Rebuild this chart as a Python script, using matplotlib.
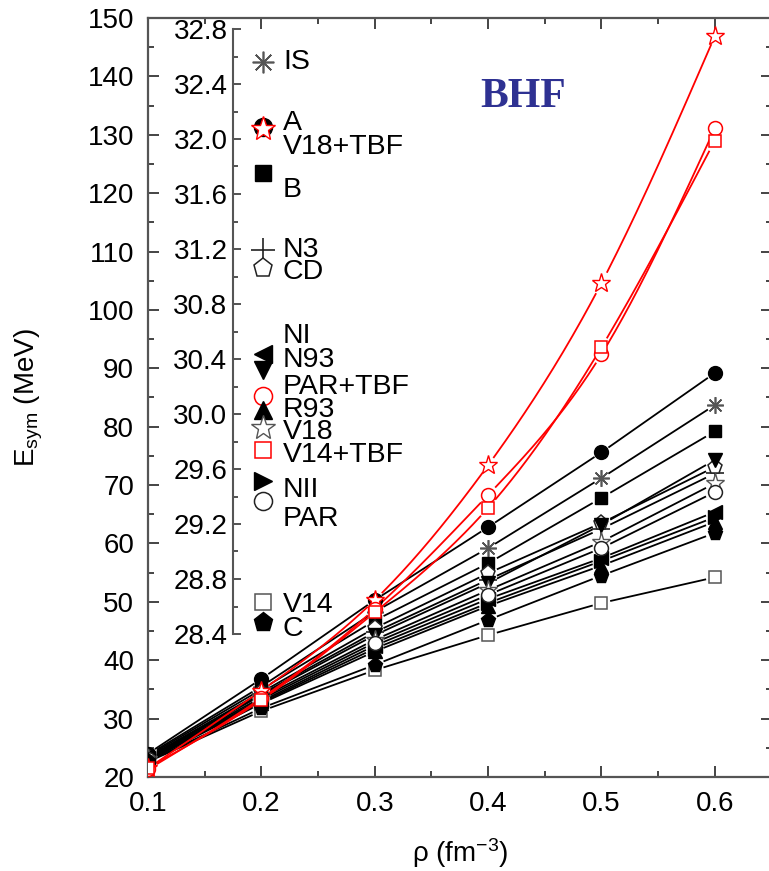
import numpy as np
import matplotlib
matplotlib.use("Agg")
import matplotlib.pyplot as plt
from matplotlib.ticker import MultipleLocator, FixedLocator

plt.rcParams['font.family'] = ['Liberation Sans', 'DejaVu Sans']
plt.rcParams['mathtext.fontset'] = 'custom'
plt.rcParams['mathtext.rm'] = 'Liberation Sans'
plt.rcParams['mathtext.it'] = 'Liberation Sans:italic'

# ---------------- data ----------------
rho = [0.1, 0.2, 0.3, 0.4, 0.5, 0.6]

names = ["IS", "A", "V18+TBF", "B", "N3", "CD", "NI", "N93", "PAR+TBF",
         "R93", "V18", "V14+TBF", "NII", "PAR", "V14", "C"]

esym_IS = [23.8, 35.5, 48.3, 59.2, 71.2, 83.7]
esym_A = [24.0, 36.8, 50.3, 62.8, 75.6, 89.2]
esym_V18TBF = [21.5, 34.8, 50.3, 73.4, 104.6, 146.9]
esym_B = [23.6, 35.0, 46.8, 56.6, 67.8, 79.2]
esym_N3 = [23.3, 34.2, 44.8, 53.8, 62.5, 72.0]
esym_CD = [23.4, 34.5, 45.5, 54.9, 63.5, 73.1]
esym_NI = [23.0, 33.0, 42.5, 50.5, 57.5, 65.4]
esym_N93 = [23.2, 34.0, 44.3, 53.2, 63.2, 74.3]
esym_PARTBF = [21.3, 33.5, 48.8, 68.3, 92.4, 131.1]
esym_R93 = [22.8, 32.6, 41.5, 49.3, 56.2, 63.7]
esym_V18 = [23.1, 33.6, 43.5, 52.0, 60.3, 70.3]
esym_V14TBF = [21.6, 33.2, 48.2, 66.1, 93.6, 129.0]
esym_NII = [22.9, 32.8, 42.0, 49.8, 57.0, 64.5]
esym_PAR = [23.0, 33.3, 43.0, 51.2, 59.2, 68.8]
esym_V14 = [22.6, 31.3, 38.3, 44.3, 49.8, 54.2]
esym_C = [22.7, 31.8, 39.2, 46.9, 54.5, 61.8]

series_values = [esym_IS, esym_A, esym_V18TBF, esym_B, esym_N3, esym_CD, esym_NI,
                 esym_N93, esym_PARTBF, esym_R93, esym_V18, esym_V14TBF, esym_NII,
                 esym_PAR, esym_V14, esym_C]

# saturation-density symmetry energy (inner scale), where each legend marker sits
esym0 = [32.56, 32.09, 32.07, 31.75, 31.19, 31.06, 30.44, 30.32, 30.13,
         30.03, 29.90, 29.74, 29.51, 29.37, 28.63, 28.49]
# label heights on the inner scale
label_y = [32.56, 32.12, 31.94, 31.63, 31.19, 31.03, 30.57, 30.39, 30.20,
           30.03, 29.87, 29.70, 29.45, 29.24, 28.61, 28.44]

x_ticks = [0.1, 0.2, 0.3, 0.4, 0.5, 0.6]
y_ticks = [20, 30, 40, 50, 60, 70, 80, 90, 100, 110, 120, 130, 140, 150]
inner_ticks = [28.4, 28.8, 29.2, 29.6, 30.0, 30.4, 30.8, 31.2, 31.6, 32.0, 32.4, 32.8]

# ---------------- styles ----------------
DK = '#222222'
GR = '#555555'
RED = '#ff0000'
styles = {
    "IS":      dict(marker=(8, 2, 0), mfc='none', mec=GR, ms=12, mew=1.2, lc='black', smooth=False),
    "A":       dict(marker='o', mfc='black', mec='black', ms=10, mew=1.0, lc='black', smooth=False),
    "V18+TBF": dict(marker='*', mfc='white', mec=RED, ms=14, mew=1.0, lc=RED, smooth=True),
    "B":       dict(marker='s', mfc='black', mec='black', ms=9, mew=1.0, lc='black', smooth=False),
    "N3":      dict(marker='+', mfc='none', mec=DK, ms=13, mew=1.2, lc='black', smooth=False),
    "CD":      dict(marker='p', mfc='white', mec=DK, ms=11, mew=1.1, lc='black', smooth=False),
    "NI":      dict(marker='<', mfc='black', mec='black', ms=10, mew=1.0, lc='black', smooth=False),
    "N93":     dict(marker='v', mfc='black', mec='black', ms=10, mew=1.0, lc='black', smooth=False),
    "PAR+TBF": dict(marker='o', mfc='white', mec=RED, ms=10, mew=1.1, lc=RED, smooth=True),
    "R93":     dict(marker='^', mfc='black', mec='black', ms=10, mew=1.0, lc='black', smooth=False),
    "V18":     dict(marker='*', mfc='white', mec=GR, ms=14, mew=1.0, lc='black', smooth=False),
    "V14+TBF": dict(marker='s', mfc='white', mec=RED, ms=9, mew=1.1, lc=RED, smooth=True),
    "NII":     dict(marker='>', mfc='black', mec='black', ms=10, mew=1.0, lc='black', smooth=False),
    "PAR":     dict(marker='o', mfc='white', mec=DK, ms=10, mew=1.1, lc='black', smooth=False),
    "V14":     dict(marker='s', mfc='white', mec=GR, ms=9, mew=1.1, lc='black', smooth=False),
    "C":       dict(marker='p', mfc='black', mec='black', ms=11, mew=1.0, lc='black', smooth=False),
}

W, H = 769, 871
fig = plt.figure(figsize=(W / 100, H / 100), dpi=100)
ax = fig.add_axes([148 / W, (H - 777) / H, (771.5 - 148) / W, (777 - 18) / H])
ax.set_xlim(0.1, 0.65)
ax.set_ylim(20, 150)

for sp in ax.spines.values():
    sp.set_color('#555555')
    sp.set_linewidth(1.6)

ax.xaxis.set_major_locator(FixedLocator(x_ticks))
ax.xaxis.set_minor_locator(MultipleLocator(0.05))
ax.yaxis.set_major_locator(FixedLocator(y_ticks))
ax.yaxis.set_minor_locator(MultipleLocator(5))
ax.set_xticklabels([f"{v:.1f}" for v in x_ticks])
ax.tick_params(which='both', direction='in', top=True, right=True, color='#444444', width=1.4)
ax.tick_params(which='major', length=8, labelsize=20)
ax.tick_params(which='minor', length=4.5)
ax.tick_params(axis='x', which='major', pad=10)
ax.tick_params(axis='y', which='major', pad=10)

ax.set_xlabel(r'ρ (fm$^{-3}$)', fontsize=20)
ax.set_ylabel(r'E$_{\rm sym}$ (MeV)', fontsize=20)
ax.xaxis.set_label_coords(0.5, -0.078)
ax.yaxis.set_label_coords(-0.165, 0.5)


def natural_spline(x, y, n=60):
    x = np.asarray(x, float)
    y = np.asarray(y, float)
    k = len(x)
    h = np.diff(x)
    A = np.zeros((k, k))
    b = np.zeros(k)
    A[0, 0] = A[-1, -1] = 1.0
    for i in range(1, k - 1):
        A[i, i - 1] = h[i - 1]
        A[i, i] = 2 * (h[i - 1] + h[i])
        A[i, i + 1] = h[i]
        b[i] = 6 * ((y[i + 1] - y[i]) / h[i] - (y[i] - y[i - 1]) / h[i - 1])
    M = np.linalg.solve(A, b)
    xs, ys = [], []
    for i in range(k - 1):
        t = np.linspace(x[i], x[i + 1], n)
        a = x[i + 1] - t
        c = t - x[i]
        s = (M[i] * a ** 3 + M[i + 1] * c ** 3) / (6 * h[i]) + \
            (y[i] / h[i] - M[i] * h[i] / 6) * a + (y[i + 1] / h[i] - M[i + 1] * h[i] / 6) * c
        xs.append(t)
        ys.append(s)
    return np.concatenate(xs), np.concatenate(ys)


def linear_dense(x, y, n=60):
    xs, ys = [], []
    for i in range(len(x) - 1):
        xs.append(np.linspace(x[i], x[i + 1], n))
        ys.append(np.linspace(y[i], y[i + 1], n))
    return np.concatenate(xs), np.concatenate(ys)


def gapped(xd, yd, xm, ym, gap):
    pd = ax.transData.transform(np.column_stack([xd, yd]))
    pm = ax.transData.transform(np.column_stack([xm, ym]))
    d = np.min(np.hypot(pd[:, None, 0] - pm[None, :, 0], pd[:, None, 1] - pm[None, :, 1]), axis=1)
    yd = yd.copy()
    yd[d < gap] = np.nan
    return xd, yd


order = [n for n in names if not styles[n]['smooth']] + [n for n in names if styles[n]['smooth']]
for name in order:
    vals = series_values[names.index(name)]
    st = styles[name]
    if st['smooth']:
        xd, yd = natural_spline(rho, vals)
    else:
        xd, yd = linear_dense(rho, vals)
    xd, yd = gapped(xd, yd, rho, vals, 9)
    ax.plot(xd, yd, color=st['lc'], lw=1.3, zorder=2)
    ax.plot(rho, vals, linestyle='none', marker=st['marker'], mfc=st['mfc'], mec=st['mec'],
            ms=st['ms'], mew=st['mew'], zorder=3)

ax.text(0.4307, 136.4, 'BHF', fontsize=30, fontweight='bold', family='Liberation Serif',
        color='#2E3192', ha='center', va='center')

# ---------------- inner scale with legend ----------------
iax = fig.add_axes([233 / W, (H - 634) / H, 220 / W, (634 - 29) / H])
iax.set_xlim(0, 220)
iax.set_ylim(28.4, 32.8)
iax.patch.set_visible(False)
for s in ['top', 'right', 'bottom']:
    iax.spines[s].set_visible(False)
iax.spines['left'].set_color('#555555')
iax.spines['left'].set_linewidth(1.5)
iax.set_xticks([])
iax.yaxis.set_major_locator(FixedLocator(inner_ticks))
iax.yaxis.set_minor_locator(MultipleLocator(0.2))
iax.set_yticklabels([f"{v:.1f}" for v in inner_ticks])
iax.tick_params(axis='y', which='both', direction='in', color='#444444', width=1.3)
iax.tick_params(axis='y', which='major', length=6, labelsize=20, pad=4)
iax.tick_params(axis='y', which='minor', length=3.5)

for name, y0, ly in zip(names, esym0, label_y):
    st = styles[name]
    ms = st['ms'] * 1.3
    iax.plot([30], [y0], linestyle='none', marker=st['marker'], mfc=st['mfc'], mec=st['mec'],
             ms=ms, mew=st['mew'], clip_on=False)
    iax.text(50, ly, name, fontsize=20.5, ha='left', va='center')

fig.savefig('out.png', dpi=100)
